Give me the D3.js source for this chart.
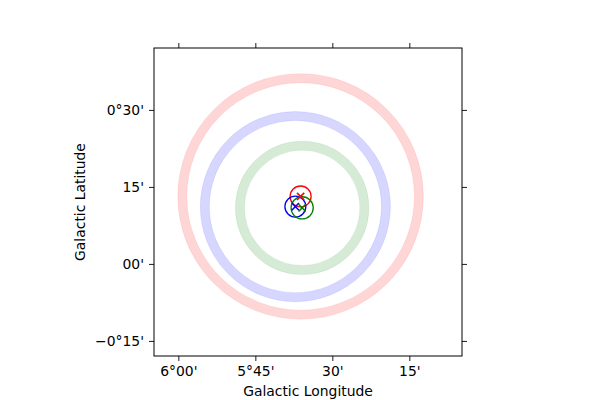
<!DOCTYPE html>
<html>
<head>
<meta charset="utf-8">
<script src="https://cdn.jsdelivr.net/npm/d3@7"></script>
<style>
  body { margin: 0; background: #fff; }
  text { font-family: "DejaVu Sans", sans-serif; }
</style>
</head>
<body>
<div class="main"></div>
<script>
// source positions (galactic, degrees) and radii (degrees)
const colors = ["red", "blue", "green"];
const lons = [5.603, 5.620, 5.598];
const lats = [0.219, 0.186, 0.182];
const ringRadii = [0.384, 0.294, 0.202];
const errRadii = [0.034, 0.034, 0.036];

const xTicks = [6.0, 5.75, 5.5, 5.25];
const xTickLabels = ["6°00'", "5°45'", "30'", "15'"];
const yTicks = [0.5, 0.25, 0.0, -0.25];
const yTickLabels = ["0°30'", "15'", "00'", "\u22120°15'"];

const width = 600, height = 400;
const box = { left: 154, right: 462, top: 48, bottom: 356 };

const x = d3.scaleLinear().domain([6.079, 5.079]).range([box.left, box.right]);
const y = d3.scaleLinear().domain([-0.299, 0.701]).range([box.bottom, box.top]);
const rpx = r => Math.abs(x(0) - x(r));

const svg = d3.select(".main").append("svg")
    .attr("width", width)
    .attr("height", height);

const data = colors.map((c, i) => ({
    color: c, lon: lons[i], lat: lats[i], ring: ringRadii[i], err: errRadii[i]
}));

// wide translucent rings
const rings = svg.append("g");
rings.selectAll("circle.ring")
    .data(data)
    .enter().append("circle")
    .attr("class", "ring")
    .attr("cx", d => x(d.lon))
    .attr("cy", d => y(d.lat))
    .attr("r", d => rpx(d.ring))
    .attr("fill", "none")
    .attr("stroke", d => d.color)
    .attr("stroke-opacity", 0.16)
    .attr("stroke-width", 9);

[-4.5, 4.5].forEach(off => {
    rings.selectAll(null)
        .data(data)
        .enter().append("circle")
        .attr("cx", d => x(d.lon))
        .attr("cy", d => y(d.lat))
        .attr("r", d => rpx(d.ring) + off)
        .attr("fill", "none")
        .attr("stroke", d => d.color)
        .attr("stroke-opacity", 0.08)
        .attr("stroke-width", 1);
});

// error circles and markers
const marks = svg.append("g");
marks.selectAll("circle.err")
    .data(data)
    .enter().append("circle")
    .attr("class", "err")
    .attr("cx", d => x(d.lon))
    .attr("cy", d => y(d.lat))
    .attr("r", d => rpx(d.err))
    .attr("fill", "none")
    .attr("stroke", d => d.color)
    .attr("stroke-width", 1.3);

const s = 3.6;
marks.selectAll("path.mk")
    .data(data)
    .enter().append("path")
    .attr("class", "mk")
    .attr("d", d => {
        const cx = x(d.lon), cy = y(d.lat);
        return `M${cx - s},${cy - s}L${cx + s},${cy + s}M${cx - s},${cy + s}L${cx + s},${cy - s}`;
    })
    .attr("stroke", d => d.color)
    .attr("stroke-width", 1.6)
    .attr("fill", "none");

// frame
svg.append("rect")
    .attr("x", box.left)
    .attr("y", box.top)
    .attr("width", box.right - box.left)
    .attr("height", box.bottom - box.top)
    .attr("fill", "none")
    .attr("stroke", "#000")
    .attr("stroke-width", 1);

// axes
const fmtX = d => xTickLabels[xTicks.indexOf(d)];
const fmtY = d => yTickLabels[yTicks.indexOf(d)];

const styleAxis = g => {
    g.select(".domain").remove();
    g.selectAll(".tick line").attr("stroke", "#000").attr("stroke-width", 0.9);
    g.selectAll(".tick text")
        .attr("fill", "#000")
        .style("font-family", "DejaVu Sans")
        .style("font-size", "13.9px");
};

svg.append("g")
    .attr("transform", `translate(0,${box.bottom})`)
    .call(d3.axisBottom(x).tickValues(xTicks).tickFormat(fmtX).tickSize(5).tickPadding(5))
    .call(styleAxis);

svg.append("g")
    .attr("transform", `translate(0,${box.top})`)
    .call(d3.axisTop(x).tickValues(xTicks).tickFormat("").tickSize(5))
    .call(styleAxis);

svg.append("g")
    .attr("transform", `translate(${box.left},0)`)
    .call(d3.axisLeft(y).tickValues(yTicks).tickFormat(fmtY).tickSize(5).tickPadding(5))
    .call(styleAxis);

svg.append("g")
    .attr("transform", `translate(${box.right},0)`)
    .call(d3.axisRight(y).tickValues(yTicks).tickFormat("").tickSize(5))
    .call(styleAxis);

// axis titles
svg.append("text")
    .attr("x", (box.left + box.right) / 2)
    .attr("y", 396)
    .attr("text-anchor", "middle")
    .style("font-size", "13.9px")
    .text("Galactic Longitude");

svg.append("text")
    .attr("transform", `translate(85,${(box.top + box.bottom) / 2}) rotate(-90)`)
    .attr("text-anchor", "middle")
    .style("font-size", "13.9px")
    .text("Galactic Latitude");
</script>
</body>
</html>
